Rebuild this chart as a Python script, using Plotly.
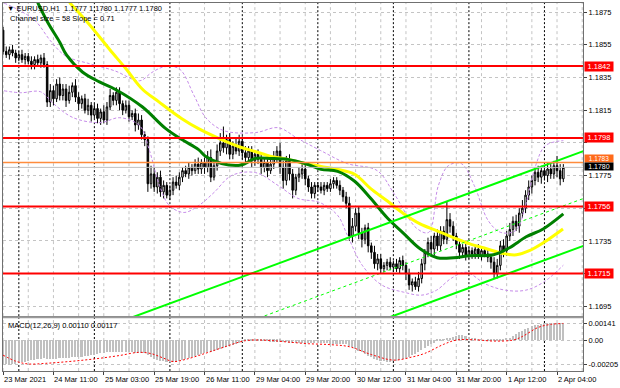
import plotly.graph_objects as go

# ---------------- data (prices expressed in pips above BASE) ----------------
BASE = 1.1700
PIP = 0.0001

time_label_bars = [0, 16, 32, 48, 64, 80, 96, 112, 128, 144, 160, 176]
time_labels = ["23 Mar 2021", "24 Mar 11:00", "25 Mar 03:00", "25 Mar 19:00",
               "26 Mar 11:00", "29 Mar 04:00", "29 Mar 20:00", "30 Mar 12:00",
               "31 Mar 04:00", "31 Mar 20:00", "1 Apr 12:00", "2 Apr 04:00"]
day_separator_bars = [5, 29, 53, 76, 100, 124, 148, 172]

first_open_pips = 164
close_pips = [
    151, 149, 152, 150, 147, 149, 146, 148, 145, 143,
    146, 144, 147, 143, 120, 127, 122, 131, 124, 128,
    121, 126, 130, 123, 119, 122, 115, 118, 112, 116,
    110, 114, 109, 117, 124, 121, 126, 119, 115, 118,
    111, 113, 106, 109, 100, 97, 70, 76, 68, 74,
    65, 69, 63, 66, 71, 69, 74, 78, 76, 80,
    78, 82, 79, 83, 80, 86, 74, 81, 90, 95,
    92, 97, 88, 93, 90, 96, 89, 86, 90, 84,
    88, 85, 80, 83, 78, 82, 86, 90, 80, 72,
    84, 76, 66, 74, 76, 79, 73, 68, 64, 69,
    68, 66, 69, 67, 70, 72, 69, 66, 62, 58,
    38, 44, 52, 40, 36, 43, 32, 28, 21, 24,
    18, 20, 22, 19, 21, 18, 23, 20, 15, 8,
    10, 7, 12, 21, 28, 34, 30, 38, 32, 41,
    36, 48, 44, 38, 33, 28, 31, 26, 29, 27,
    30, 26, 29, 27, 25, 22, 15, 20, 32, 29,
    38, 42, 47, 44, 52, 55, 63, 68, 72, 77,
    74, 78, 75, 79, 76, 81, 78, 73, 80]
wick_up_pips = [
    2, 3, 2, 3, 2, 2, 3, 2, 2, 3,
    2, 3, 2, 3, 2, 4, 3, 3, 4, 3,
    3, 4, 2, 4, 3, 2, 3, 4, 2, 3,
    3, 2, 4, 3, 4, 2, 3, 3, 2, 3,
    3, 2, 3, 4, 3, 2, 2, 5, 4, 3,
    4, 3, 2, 3, 3, 4, 3, 2, 3, 3,
    2, 3, 4, 2, 3, 4, 5, 3, 4, 6,
    10, 3, 4, 3, 5, 4, 3, 4, 3, 3,
    2, 3, 4, 3, 2, 3, 4, 3, 5, 4,
    3, 4, 3, 2, 4, 3, 3, 2, 3, 2,
    2, 3, 2, 2, 3, 2, 2, 3, 2, 3,
    4, 5, 3, 4, 3, 2, 3, 2, 4, 3,
    3, 2, 2, 3, 2, 3, 2, 3, 2, 3,
    2, 3, 4, 3, 2, 3, 4, 2, 4, 3,
    3, 11, 4, 3, 2, 3, 2, 3, 2, 2,
    2, 3, 2, 2, 3, 2, 3, 4, 3, 4,
    3, 4, 3, 4, 3, 5, 3, 4, 3, 3,
    4, 3, 3, 4, 3, 3, 6, 4, 2]
wick_dn_pips = [
    2, 2, 3, 2, 3, 2, 2, 3, 2, 3,
    3, 2, 3, 2, 3, 3, 4, 2, 3, 3,
    4, 2, 3, 3, 4, 3, 2, 3, 4, 2,
    3, 4, 2, 3, 2, 3, 3, 4, 3, 2,
    3, 2, 4, 3, 3, 4, 5, 3, 3, 4,
    3, 4, 2, 3, 3, 2, 3, 3, 2, 3,
    3, 2, 3, 3, 4, 3, 3, 2, 3, 3,
    3, 4, 3, 3, 2, 3, 4, 3, 3, 4,
    3, 3, 4, 3, 4, 2, 3, 3, 4, 5,
    3, 4, 5, 3, 3, 3, 4, 3, 3, 3,
    3, 2, 3, 2, 2, 3, 2, 3, 3, 3,
    3, 4, 3, 4, 5, 3, 4, 4, 3, 4,
    3, 2, 3, 2, 3, 2, 3, 3, 4, 3,
    4, 2, 3, 3, 4, 3, 3, 4, 3, 3,
    3, 3, 4, 3, 3, 4, 3, 3, 2, 3,
    3, 2, 3, 2, 3, 4, 3, 3, 3, 4,
    3, 3, 4, 3, 4, 3, 3, 3, 4, 3,
    3, 4, 3, 4, 3, 3, 4, 4, 2]

green_ma_bars = [11.0, 14.2, 18.0, 20.2, 25.2, 30.6, 36.0, 44.2, 51.7, 56.8, 62.1, 64.4,
                 69.4, 74.8, 77.0, 80.1, 85.2, 90.5, 95.9, 101.0, 106.3, 111.7, 116.7,
                 122.1, 127.4, 132.5, 137.9, 143.2, 148.3, 155.8, 160.9, 166.2, 171.6, 178.0]
green_ma_pips = [180.9, 168.7, 156.6, 148.7, 138.4, 132.3, 127.4, 117.1, 103.7, 97.0, 90.9, 86.7,
                 82.4, 81.2, 82.4, 85.5, 85.5, 84.9, 82.4, 78.8, 77.6, 71.5, 61.2,
                 49.0, 39.3, 30.2, 24.7, 24.7, 25.9, 26.5, 30.8, 37.5, 42.3, 51.5]
yellow_ma_bars = [21.1, 27.4, 33.8, 39.1, 44.2, 49.5, 56.8, 62.1, 69.4, 74.8, 80.1, 85.2, 90.5,
                  95.9, 101.0, 106.3, 111.7, 116.7, 122.1, 127.4, 132.5, 137.9, 143.2, 148.3,
                  153.6, 159.0, 163.1, 167.2, 171.6, 177.9]
yellow_ma_pips = [180.9, 167.5, 152.3, 140.2, 128.0, 120.1, 109.8, 103.7, 97.0, 92.8, 89.7, 86.7,
                  84.9, 82.4, 80.6, 78.8, 75.8, 67.2, 59.4, 51.5, 45.4, 41.1, 36.9, 33.2,
                  30.2, 27.2, 26.5, 29.0, 33.8, 42.3]

bb_upper_bars = [0.3, 5.6, 10.3, 15.1, 19.8, 27.6, 35.5, 43.4, 47.1, 51.2, 56.0, 60.7, 64.4,
                 70.1, 80.2, 87.4, 93.7, 100.9, 109.4, 118.8, 124.2, 131.4, 135.2, 138.3,
                 141.5, 145.6, 149.7, 154.1, 158.1, 162.9, 166.0, 169.2, 172.3, 178.0]
bb_upper_pips = [180.6, 175.7, 169.6, 157.4, 148.3, 143.4, 139.1, 133.0, 137.9, 141.6, 140.3,
                 123.9, 110.4, 102.5, 101.3, 104.3, 97.6, 90.3, 82.3, 78.1, 64.0, 42.7, 40.2,
                 68.9, 81.1, 82.3, 68.9, 47.5, 40.2, 41.4, 56.7, 81.1, 93.3, 96.4]
bb_lower_bars = [0.3, 5.6, 11.9, 16.0, 22.3, 30.8, 37.1, 43.4, 46.5, 49.7, 52.8, 57.5, 62.2,
                 67.0, 72.6, 80.2, 87.4, 93.7, 100.6, 106.3, 109.4, 114.1, 120.4, 127.3,
                 133.0, 137.7, 142.4, 147.1, 153.4, 159.7, 166.0, 171.7, 178.0]
bb_lower_pips = [126.9, 125.7, 126.3, 119.0, 110.4, 107.4, 110.4, 105.5, 90.3, 68.9, 56.7,
                 52.4, 56.7, 64.6, 75.0, 76.8, 68.9, 61.0, 58.5, 50.6, 38.4, 20.1, 7.9,
                 3.6, 1.8, 4.8, 12.1, 15.8, 8.5, 4.8, 4.8, 9.7, 20.1]

# linear regression channel: middle line end points, channel size 58 pips
chan_bars = [-1, 185]
chan_mid_pips = [-70.6, 61.4]
chan_size_pips = 58

red_levels = [1.1842, 1.1798, 1.1756, 1.1715]
orange_level = 1.1783
bid_price = 1.1780

price_ticks = [1.1695, 1.1715, 1.1735, 1.1755, 1.1775, 1.1795, 1.1815, 1.1835, 1.1855, 1.1875]
# tick labels that sit under the level boxes are covered in the reference
covered_ticks = [1.1715, 1.1755, 1.1795]

# MACD main (histogram) in units of 1e-5
macd_e5 = [
    -196, -201, -205, -202, -198, -192, -186, -180, -174, -169, -165, -161, -157, -153,
    -158, -160, -158, -156, -153, -151, -149, -147, -145, -143, -141, -139, -136, -133,
    -128, -122, -117, -112, -108, -104, -101, -99, -98, -99, -100, -101, -103, -104, -106, -107, -109, -112,
    -128, -142, -155, -165, -172, -178, -182, -184, -183, -180,
    -175, -168, -160, -152, -144, -136, -128, -120, -112, -104, -97, -90, -82, -74, -66, -58, -50, -42, -34, -26, -18, -10,
    -8, -6, -5, -6, -8, -10, -12, -14, -15, -16, -16, -18, -20, -22, -24, -26, -27, -28, -28, -27, -26, -25,
    -26, -27, -28, -29, -30, -31, -32, -33, -34, -36,
    -50, -62, -76, -90, -104, -118, -130, -142, -154, -164, -172, -178,
    -182, -181, -178, -172, -165, -158, -150, -140, -128, -115, -100, -84, -66, -48,
    -34, -22, -12, -4, 2, 8,
    18, 28, 36, 41, 38,
    30, 22, 16, 10, 6, 3, 0, -3, -6,
    -10, -12, -8, -2, 8,
    20, 34, 48, 62, 76, 90,
    102, 112, 120, 126, 131, 135,
    138, 140, 141, 140, 138, 136]
signal_bars = [0, 4, 8, 14, 20, 26, 31, 37, 43, 47, 51, 54, 58, 64, 70, 77, 84, 90, 97, 104,
               110, 117, 124, 130, 134, 140, 144, 150, 156, 162, 165, 170, 174, 178]
signal_e5 = [-125, -175, -198, -192, -180, -165, -150, -128, -102, -112, -150, -178, -160, -112,
             -60, -5, -2, -15, -30, -38, -55, -120, -166, -140, -110, -35, 0, 2, -8, 0, 30, 105,
             130, 138]
macd_ticks = [0.00141, 0.0, -0.00205]
macd_ticktext = ["0.00141", "0.00", "-0.00205"]

# ---------------- derived series ----------------
n = len(close_pips)
assert len(wick_up_pips) == n and len(wick_dn_pips) == n and len(macd_e5) == n
bars = list(range(n))
open_pips = [first_open_pips] + close_pips[:-1]
o = [BASE + v * PIP for v in open_pips]
c = [BASE + v * PIP for v in close_pips]
h = [BASE + (max(a, b) + u) * PIP for a, b, u in zip(open_pips, close_pips, wick_up_pips)]
l = [BASE + (min(a, b) - d) * PIP for a, b, d in zip(open_pips, close_pips, wick_dn_pips)]

def to_price(lst):
    return [BASE + v * PIP for v in lst]

W, H = 620, 388
ML, MR, MT, MB = 2, 32, 2, 17
PW, PH = W - ML - MR, H - MT - MB

def px(xp):
    return (xp - ML) / PW

def py(yp):
    return (H - MB - yp) / PH

FONT = "Liberation Sans, Arial, sans-serif"
GRID = "#c4c4c4"
XR = [-0.03, 184.25]

fig = go.Figure()

fig.add_trace(go.Candlestick(
    x=bars, open=o, high=h, low=l, close=c, xaxis="x", yaxis="y",
    increasing=dict(line=dict(color="black", width=1), fillcolor="white"),
    decreasing=dict(line=dict(color="black", width=1), fillcolor="black"),
    whiskerwidth=0, hoverinfo="skip"))

dash_bb = "3px,2px"
fig.add_trace(go.Scatter(x=bb_upper_bars, y=to_price(bb_upper_pips), mode="lines",
                         line=dict(color="#c58be8", width=1, dash=dash_bb, shape="spline"),
                         xaxis="x", yaxis="y"))
fig.add_trace(go.Scatter(x=bb_lower_bars, y=to_price(bb_lower_pips), mode="lines",
                         line=dict(color="#c58be8", width=1, dash=dash_bb, shape="spline"),
                         xaxis="x", yaxis="y"))

fig.add_trace(go.Scatter(x=yellow_ma_bars, y=to_price(yellow_ma_pips), mode="lines",
                         line=dict(color="#ffff00", width=3, shape="spline"), xaxis="x", yaxis="y"))
fig.add_trace(go.Scatter(x=green_ma_bars, y=to_price(green_ma_pips), mode="lines",
                         line=dict(color="#008000", width=3, shape="spline"), xaxis="x", yaxis="y"))

half = chan_size_pips / 2
fig.add_trace(go.Scatter(x=chan_bars, y=to_price([v + half for v in chan_mid_pips]), mode="lines",
                         line=dict(color="#00ff00", width=2), xaxis="x", yaxis="y"))
fig.add_trace(go.Scatter(x=chan_bars, y=to_price([v - half for v in chan_mid_pips]), mode="lines",
                         line=dict(color="#00ff00", width=2), xaxis="x", yaxis="y"))
fig.add_trace(go.Scatter(x=chan_bars, y=to_price(chan_mid_pips), mode="lines",
                         line=dict(color="#00ff00", width=1, dash="3px,3px"), xaxis="x", yaxis="y"))

# MACD
fig.add_trace(go.Bar(x=bars, y=[v * 1e-5 for v in macd_e5], marker=dict(color="#c0c0c0", line=dict(width=0)),
                     width=0.5, xaxis="x2", yaxis="y2"))
fig.add_trace(go.Scatter(x=signal_bars, y=[v * 1e-5 for v in signal_e5], mode="lines",
                         line=dict(color="#ff0000", width=1, dash="2px,2px", shape="spline"),
                         xaxis="x2", yaxis="y2"))

shapes = []
grid_bars = list(range(0, 185, 8))
for gb in grid_bars:
    for xr, yr in (("x", "y domain"), ("x2", "y2 domain")):
        shapes.append(dict(type="line", xref=xr, yref=yr, x0=gb, x1=gb, y0=0, y1=1,
                           line=dict(color=GRID, width=1, dash="3px,3px"), layer="below"))
for db in day_separator_bars:
    for xr, yr in (("x", "y domain"), ("x2", "y2 domain")):
        shapes.append(dict(type="line", xref=xr, yref=yr, x0=db, x1=db, y0=0, y1=1,
                           line=dict(color="black", width=1, dash="2px,2px"), layer="below"))
shapes.append(dict(type="line", xref="x domain", yref="y", x0=0, x1=1, y0=bid_price, y1=bid_price,
                   line=dict(color="#c0c0c0", width=1)))
shapes.append(dict(type="line", xref="x domain", yref="y", x0=0, x1=1, y0=orange_level, y1=orange_level,
                   line=dict(color="#ff8c3c", width=1.5)))
for lv in red_levels:
    shapes.append(dict(type="line", xref="x domain", yref="y", x0=0, x1=1, y0=lv, y1=lv,
                       line=dict(color="#ff0000", width=2)))
# panel separator
shapes.append(dict(type="rect", xref="paper", yref="paper", x0=0, x1=1, y0=py(318), y1=py(316),
                   line=dict(width=0), fillcolor="#9a9a9a"))

ann = []
def level_box(price, bg, txt, hgt=7, fsize=7.5, yshift=0):
    return dict(xref="paper", yref="y", x=1, y=price, xanchor="left", yanchor="middle", xshift=1,
                yshift=yshift, text=txt, showarrow=False,
                font=dict(color="white", size=fsize, family=FONT),
                bgcolor=bg, borderpad=1, width=26, height=hgt)

for lv in red_levels:
    ann.append(level_box(lv, "#ff0000", f"{lv:.4f}"))
ann.append(level_box(orange_level, "#ff6a1a", f"{orange_level:.4f}", 5, 6.5, 4))
ann.append(level_box(bid_price, "#000000", f"{bid_price:.4f}", 5, 7, 1))

for tb, tt in zip(time_label_bars, time_labels):
    ann.append(dict(xref="x2", yref="paper", x=tb, y=py(380), xanchor="left", yanchor="middle",
                    xshift=-1, text=tt, showarrow=False, font=dict(color="black", size=7.5, family=FONT)))

ann.append(dict(xref="paper", yref="paper", x=px(4), y=py(8), xanchor="left", yanchor="middle",
                text="\u25bc EURUSD,H1  1.1777 1.1780 1.1777 1.1780", showarrow=False,
                font=dict(color="black", size=7.5, family=FONT)))
ann.append(dict(xref="paper", yref="paper", x=px(7), y=py(17.5), xanchor="left", yanchor="middle",
                text="Channel size = 58 Slope = 0.71", showarrow=False,
                font=dict(color="black", size=7.5, family=FONT)))
ann.append(dict(xref="paper", yref="paper", x=px(5), y=py(325), xanchor="left", yanchor="middle",
                text="MACD(12,26,9) 0.00110 0.00117", showarrow=False,
                font=dict(color="black", size=7.5, family=FONT)))

main_bottom = py(316)
macd_top = py(318)
p_top = 1.1715 + (273.3 - MT) / 16380
p_bot = 1.1715 - (316 - 273.3) / 16380
m_top = (340 - 318) * 8.27e-5
m_bot = -(H - MB - 340) * 8.27e-5

price_ticktext = ["" if any(abs(t - ct) < 1e-9 for ct in covered_ticks) else f"{t:.4f}"
                  for t in price_ticks]

axis_common = dict(showline=True, linecolor="#707070", linewidth=1, mirror=True, zeroline=False)
fig.update_layout(
    width=W, height=H, margin=dict(l=ML, r=MR, t=MT, b=MB),
    paper_bgcolor="white", plot_bgcolor="white", showlegend=False, bargap=0,
    font=dict(family=FONT, size=7.5, color="black"),
    xaxis=dict(domain=[0, 1], range=XR, anchor="y", showticklabels=False, showgrid=False,
               ticks="", rangeslider=dict(visible=False), **axis_common),
    yaxis=dict(domain=[main_bottom, 1], range=[p_bot, p_top], side="right", anchor="x",
               tickvals=price_ticks, ticktext=price_ticktext,
               ticks="outside", ticklen=3, tickcolor="#404040",
               tickfont=dict(size=7.5, color="black", family=FONT),
               showgrid=True, gridcolor=GRID, griddash="3px,3px", gridwidth=1, **axis_common),
    xaxis2=dict(domain=[0, 1], range=XR, anchor="y2", showticklabels=False, showgrid=False,
                tickvals=time_label_bars, ticks="outside", ticklen=3, tickcolor="#404040",
                **axis_common),
    yaxis2=dict(domain=[0, macd_top], range=[m_bot, m_top], side="right", anchor="x2",
                tickvals=macd_ticks, ticktext=macd_ticktext, ticks="outside", ticklen=3,
                tickcolor="#404040", tickfont=dict(size=7.5, color="black", family=FONT),
                showgrid=True, gridcolor=GRID, griddash="3px,3px", gridwidth=1, **axis_common),
    shapes=shapes, annotations=ann)

fig.write_html("out.html")
